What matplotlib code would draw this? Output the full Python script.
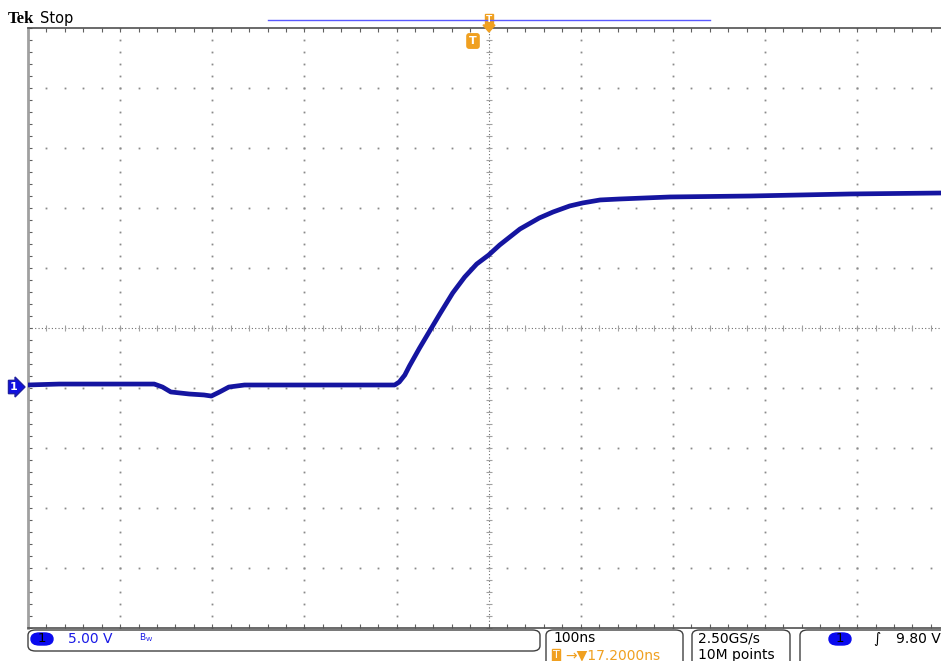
import numpy as np
import matplotlib
matplotlib.use("Agg")
import matplotlib.pyplot as plt
from matplotlib.patches import FancyBboxPatch, Polygon

# trace: time in ns (trigger at 0), volts on channel 1
time_ns = [-501, -466, -423, -363, -354, -345, -325, -309, -301, -292, -282, -265,
           -205, -151, -102, -97, -91, -86, -75, -64, -53, -39, -26, -13, 0, 12,
           34, 55, 70, 88, 102, 121, 142, 197, 284, 393, 491]
volts = [0.25, 0.33, 0.33, 0.33, 0.08, -0.33, -0.5, -0.58, -0.67, -0.33, 0.08, 0.25,
         0.25, 0.25, 0.25, 0.5, 1.08, 1.83, 3.33, 4.75, 6.17, 7.92, 9.25, 10.33, 11.08, 11.92,
         13.25, 14.17, 14.67, 15.17, 15.42, 15.67, 15.75, 15.92, 16.0, 16.17, 16.25]

ns_per_div = 100
v_per_div = 5
x_lo, x_hi = -500, 491
y_lo, y_hi = -20, 30
x_center, y_center = 0, 5

W, H = 941, 661
fig = plt.figure(figsize=(W / 100, H / 100), dpi=100)
ax = fig.add_axes([28 / W, 1 - 628 / H, (941 - 28) / W, 600 / H])
ax.set_xlim(x_lo, x_hi)
ax.set_ylim(y_lo, y_hi)

# graticule: dots at minor positions along every division line
grid_col = "#8a8a8a"
minor_x = np.arange(-500, x_hi + 1, ns_per_div / 5)
minor_y = np.arange(y_lo, y_hi + 0.01, v_per_div / 5)
for gx in np.arange(-400, x_hi, ns_per_div):
    if gx == x_center:
        continue
    ax.plot(np.full_like(minor_y, gx), minor_y, ls="none", marker="s", ms=1.3,
            color=grid_col, mew=0)
for gy in np.arange(-15, y_hi, v_per_div):
    if gy == y_center:
        continue
    ax.plot(minor_x, np.full_like(minor_x, gy), ls="none", marker="s", ms=1.3,
            color=grid_col, mew=0)

# centre crosshair, denser dots plus tick marks
ax.axhline(y_center, color="#707070", lw=0.8, ls=(0, (1, 2)))
ax.axvline(x_center, color="#707070", lw=0.8, ls=(0, (1, 2)))
ax.plot(minor_x, np.full_like(minor_x, y_center), ls="none", marker="|", ms=5,
        color="#a0a0a0", mew=0.8)
ax.plot(np.full_like(minor_y, x_center), minor_y, ls="none", marker="_", ms=5,
        color="#a0a0a0", mew=0.8)

# the trace
ax.plot(time_ns, volts, color="#1515a0", lw=3.4, solid_joinstyle="round", zorder=5)

# frame
ax.spines["right"].set_visible(False)
ax.spines["left"].set_color("#a0a0a0")
ax.spines["left"].set_linewidth(2)
ax.spines["top"].set_color("#505050")
ax.spines["top"].set_linewidth(1.2)
ax.spines["bottom"].set_color("#505050")
ax.spines["bottom"].set_linewidth(1.2)
ax.set_xticks(minor_x)
ax.set_yticks(minor_y)
ax.tick_params(axis="both", direction="in", length=3, width=0.8, color="#606060",
               labelbottom=False, labelleft=False, top=True, bottom=True, left=True)


def fx(px):
    return px / W


def fy(py):
    return 1 - py / H


# header
fig.text(fx(8), fy(19), "Tek", fontsize=12, fontweight="bold", family="Liberation Serif",
         va="center", ha="left")
fig.text(fx(40), fy(19), "Stop", fontsize=10.5, family="DejaVu Sans", va="center", ha="left")
fig.add_artist(plt.Line2D([fx(268), fx(710)], [fy(20), fy(20)], color="#5a5aff", lw=1))

orange = "#f0a020"
fig.add_artist(FancyBboxPatch((fx(485), fy(25)), fx(8), 11 / H,
                              boxstyle="square,pad=0", transform=fig.transFigure,
                              fc=orange, ec=orange))
fig.text(fx(489), fy(19.5), "T", fontsize=6.5, color="white", fontweight="bold",
         ha="center", va="center")
fig.add_artist(Polygon([[fx(483), fy(25)], [fx(495), fy(25)], [fx(489), fy(32)]],
                       closed=True, transform=fig.transFigure, fc=orange, ec=orange))
fig.text(fx(473), fy(41), "T", fontsize=8, color="white", fontweight="bold",
         ha="center", va="center",
         bbox=dict(boxstyle="round,pad=0.2", fc=orange, ec=orange))

# channel 1 ground marker
fig.text(fx(14), fy(387), "1", fontsize=8, color="white", fontweight="bold",
         ha="center", va="center",
         bbox=dict(boxstyle="rarrow,pad=0.15", fc="#1010e0", ec="#2020a0"))

# status bar boxes (the last three run off the bottom of the screen)
boxes = [(28, 540, 651), (546, 683, 672), (692, 790, 672), (800, 960, 672)]
for x0, x1, yb in boxes:
    fig.add_artist(FancyBboxPatch((fx(x0), fy(yb)), fx(x1 - x0), (yb - 630) / H,
                                  boxstyle="round,pad=0,rounding_size=0.008",
                                  transform=fig.transFigure, fc="white",
                                  ec="#404040", lw=1.0))


def chan_badge(xc, yc):
    fig.add_artist(FancyBboxPatch((fx(xc - 11), fy(yc + 6)), fx(22), 12 / H,
                                  boxstyle="round,pad=0,rounding_size=0.009",
                                  transform=fig.transFigure, fc="#0a0aee", ec="#0a0aee"))
    fig.text(fx(xc), fy(yc), "1", fontsize=9.5, color="black", ha="center", va="center")


blue = "#1a1ae6"
chan_badge(42, 639)
fig.text(fx(68), fy(639), "5.00 V", fontsize=10, color=blue, ha="left", va="center")
fig.text(fx(139), fy(638), "B$_{\\mathrm{W}}$", fontsize=6.5, color=blue, ha="left", va="center")

fig.text(fx(553), fy(638), "100ns", fontsize=10, color="black", ha="left", va="center")
fig.text(fx(553), fy(655), "T", fontsize=8, color="white", ha="left", va="center",
         bbox=dict(boxstyle="square,pad=0.05", fc=orange, ec=orange))
fig.text(fx(565), fy(655), "\u2192\u25bc17.2000ns", fontsize=10, color=orange,
         ha="left", va="center")

fig.text(fx(698), fy(638), "2.50GS/s", fontsize=10, color="black", ha="left", va="center")
fig.text(fx(698), fy(655), "10M points", fontsize=10, color="black", ha="left", va="center")

chan_badge(840, 639)
fig.text(fx(877), fy(639), "\u222b", fontsize=10, color="black", ha="center", va="center",
         fontstyle="italic")
fig.text(fx(896), fy(639), "9.80 V", fontsize=10, color="black", ha="left", va="center")

fig.savefig("out.png", dpi=100)
